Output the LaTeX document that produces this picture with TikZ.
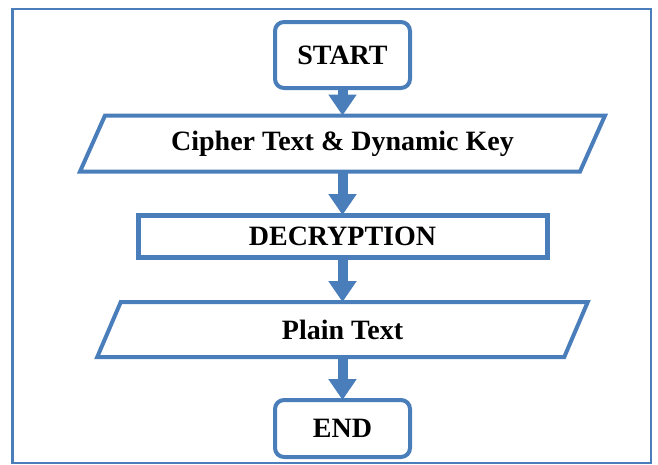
\documentclass[tikz,border=0pt]{standalone}
\usepackage{fontspec}
\setmainfont{Liberation Serif}
\usetikzlibrary{arrows.meta}
\definecolor{flowblue}{HTML}{4A7EBB}
\begin{document}
\begin{tikzpicture}[x=1pt,y=-1pt,
  every node/.style={font=\fontsize{28}{32}\selectfont\bfseries, inner sep=0pt, outer sep=0pt},
  terminal/.style={draw=flowblue, line width=4pt, rounded corners=9pt, fill=white,
    minimum width=135pt, minimum height=66pt},
  process/.style={draw=flowblue, line width=5pt, fill=white,
    minimum width=409pt, minimum height=42pt},
  iobox/.style={minimum height=56pt},
  iostroke/.style={draw=flowblue, line width=4pt, line join=miter},
  flow/.style={flowblue, line width=10pt, -{Triangle[length=21pt,width=27pt]}}
]
  % page area and outer frame
  \useasboundingbox (0,0) rectangle (658,464);
  \draw[flowblue, line width=2.5pt] (12.5,9) rectangle (651,463);

  % flowchart steps
  \node[terminal] (start) at (342.5,55) {START};
  \node[iobox, minimum width=500pt] (cipher) at (342.5,143.5) {Cipher Text \& Dynamic Key};
  \node[process] (decrypt) at (342.5,236) {DECRYPTION};
  \node[iobox, minimum width=467pt, minimum height=55pt] (plain) at (342.5,329.5) {Plain Text};
  \node[terminal, minimum height=57pt] (end) at (342.5,428.5) {END};

  % input / output parallelograms around their labels
  \draw[iostroke] ([xshift=12.5pt]cipher.north west) -- ([xshift=12.5pt]cipher.north east)
    -- ([xshift=-12.5pt]cipher.south east) -- ([xshift=-12.5pt]cipher.south west) -- cycle;
  \draw[iostroke] ([xshift=11.75pt]plain.north west) -- ([xshift=11.75pt]plain.north east)
    -- ([xshift=-11.75pt]plain.south east) -- ([xshift=-11.75pt]plain.south west) -- cycle;

  % connectors
  \draw[flow] (start.south) -- (cipher.north);
  \draw[flow] (cipher.south) -- (decrypt.north);
  \draw[flow] (decrypt.south) -- (plain.north);
  \draw[flow] (plain.south) -- (end.north);
\end{tikzpicture}
\end{document}
